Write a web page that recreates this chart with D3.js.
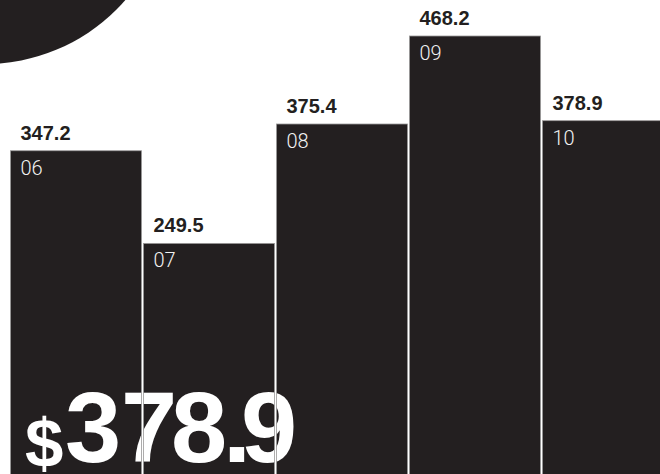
<!DOCTYPE html>
<html>
<head>
<meta charset="utf-8">
<script src="https://cdn.jsdelivr.net/npm/d3@7"></script>
<style>
  html, body { margin: 0; padding: 0; background: #fff; overflow: hidden; }
  svg { display: block; }
</style>
</head>
<body>
<svg id="chart"></svg>
<script>
// Yearly totals, fiscal years 06-10
const years = ["06", "07", "08", "09", "10"];
const totals = [347.2, 249.5, 375.4, 468.2, 378.9];
const headlineYear = "10";

const width = 660, height = 474;
const ink = "#231f20";

const svg = d3.select("#chart").attr("width", width).attr("height", height);

// Decorative disc in the corner
svg.append("circle")
    .attr("cx", -15).attr("cy", -122).attr("r", 186)
    .attr("fill", ink);

const x = d3.scaleBand()
    .domain(years)
    .range([9.5, 674.5])
    .paddingInner(0.015)
    .paddingOuter(0.0075);

// bars run off the bottom of the page
const y = d3.scaleLinear()
    .domain([0, d3.max(totals)])
    .range([480, 36]);

const data = years.map((yr, i) => ({ yr, v: totals[i] }));

svg.selectAll("rect.bar")
    .data(data)
    .join("rect")
    .attr("class", "bar")
    .attr("x", d => x(d.yr))
    .attr("y", d => y(d.v))
    .attr("width", x.bandwidth())
    .attr("height", d => y(0) - y(d.v))
    .attr("fill", ink);

// value labels above the bars
svg.selectAll("text.val")
    .data(data)
    .join("text")
    .attr("class", "val")
    .attr("x", d => x(d.yr) + 10)
    .attr("y", d => y(d.v) - 11)
    .attr("font-family", "'Liberation Sans', Arial, sans-serif")
    .attr("font-weight", 700)
    .attr("font-size", 20)
    .attr("fill", ink)
    .text(d => d3.format(".1f")(d.v));

// year labels inside the bars
svg.selectAll("text.yr")
    .data(data)
    .join("text")
    .attr("class", "yr")
    .attr("x", d => x(d.yr) + 10)
    .attr("y", d => y(d.v) + 24)
    .attr("font-family", "Roboto, 'Liberation Sans', sans-serif")
    .attr("font-weight", 300)
    .attr("font-size", 20)
    .attr("fill", "#f2f2f2")
    .text(d => d.yr);

// Big headline figure, set tight glyph by glyph
const last = totals[years.indexOf(headlineYear)];
const glyphs = d3.format(".1f")(last).split("");
const glyphX = [65, 121, 171, 223, 241];
const big = svg.append("text")
    .attr("font-family", "'Liberation Sans', Arial, sans-serif")
    .attr("font-weight", 700)
    .attr("fill", "#fff");
big.append("tspan").attr("x", 25).attr("y", 467).attr("font-size", 69).text("$");
glyphs.forEach((g, i) => {
    big.append("tspan")
        .attr("x", glyphX[i]).attr("y", 462)
        .attr("font-size", 101)
        .text(g);
});

// thin grey outlines on top so the gaps show through the headline
svg.selectAll("rect.edge")
    .data(data)
    .join("rect")
    .attr("class", "edge")
    .attr("x", d => x(d.yr))
    .attr("y", d => y(d.v))
    .attr("width", x.bandwidth())
    .attr("height", d => y(0) - y(d.v))
    .attr("fill", "none")
    .attr("stroke", "#9a9898")
    .attr("stroke-width", 0.8);
</script>
</body>
</html>
